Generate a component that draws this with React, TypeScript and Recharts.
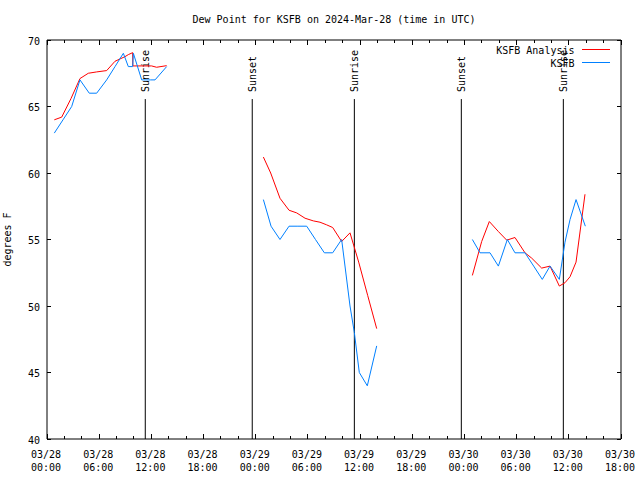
import React from 'react';
import { LineChart, Line, XAxis, YAxis, ReferenceLine, Legend } from 'recharts';

// hours since 2024-03-28 00:00 UTC; null = gap in data
const analysisHours = [
  0.84, 1.69, 2.76, 3.79, 4.75, 5.71, 6.86, 7.82, 8.97, 9.35, 9.85, 9.87, 10.9, 12.03, 12.6, 13.76,
  19,
  24.88, 25.72, 26.79, 27.83, 28.71, 29.67, 30.62, 31.39, 32.16, 32.85, 33.88, 34.84, 35.84, 36.87, 37.91,
  43,
  48.91, 49.98, 50.86, 51.9, 52.86, 53.81, 54.96, 55.73, 56.88, 57.84, 58.91, 59.56, 60.14, 60.83, 61.86,
];
const analysisDewpt = [
  64.0, 64.2, 65.6, 67.1, 67.5, 67.6, 67.7, 68.4, 68.75, 68.9, 69.05, 68.05, 68.05, 68.05, 67.95, 68.07,
  null,
  61.2, 60.0, 58.1, 57.2, 57.0, 56.6, 56.4, 56.3, 56.1, 55.9, 54.85, 55.5, 53.3, 50.8, 48.3,
  null,
  52.3, 54.85, 56.35, 55.6, 54.95, 55.15, 54.0, 53.6, 52.85, 53.0, 51.5, 51.75, 52.2, 53.3, 58.4,
];

const obsHours = [
  0.84, 1.84, 2.84, 3.79, 4.86, 5.71, 6.86, 7.82, 8.78, 9.35, 9.85, 9.93, 10.89, 11.89, 12.42, 13.76,
  19,
  24.88, 25.76, 26.79, 27.83, 28.85, 29.86, 30.87, 31.89, 32.85, 33.88, 34.84, 35.34, 35.91, 36.83, 37.91,
  43,
  48.91, 49.79, 50.94, 51.9, 52.93, 53.81, 54.96, 55.96, 56.95, 57.84, 58.91, 59.56, 60.14, 60.83, 61.9,
];
const obsDewpt = [
  63, 64, 65, 67, 66, 66, 67, 68, 69, 68, 68, 69, 67, 67, 67, 68,
  null,
  58, 56, 55, 56, 56, 56, 55, 54, 54, 55, 50, 48, 45, 44, 47,
  null,
  55, 54, 54, 53, 55, 54, 54, 53, 52, 53, 52, 54.8, 56.5, 58, 56,
];

const seriesNames = ['KSFB Analysis', 'KSFB'];

const sunHours = [11.3, 23.6, 35.34, 47.64, 59.37];
const sunLabels = ['Sunrise', 'Sunset', 'Sunrise', 'Sunset', 'Sunrise'];

const xTickHours = [0, 2, 4, 6, 8, 10, 12, 14, 16, 18, 20, 22, 24, 26, 28, 30, 32, 34, 36, 38, 40, 42, 44, 46, 48, 50, 52, 54, 56, 58, 60, 62, 64, 66];
const xDateLabels = ['03/28', '03/28', '03/28', '03/28', '03/29', '03/29', '03/29', '03/29', '03/30', '03/30', '03/30', '03/30'];
const xTimeLabels = ['00:00', '06:00', '12:00', '18:00', '00:00', '06:00', '12:00', '18:00', '00:00', '06:00', '12:00', '18:00'];
const yTicks = [40, 45, 50, 55, 60, 65, 70];

const analysisData = analysisHours.map((h, i) => ({ h, v: analysisDewpt[i] }));
const obsData = obsHours.map((h, i) => ({ h, v: obsDewpt[i] }));

const FONT = 'DejaVu Sans Mono';
const FS = 10;

const BottomTick = (props: any) => {
  const { x, y, payload } = props;
  const v = payload.value;
  const major = v % 6 === 0;
  const k = v / 6;
  return (
    <g>
      <line x1={x} y1={y} x2={x} y2={y - (major ? 5 : 3)} stroke="#000" shapeRendering="crispEdges" />
      {major && (
        <text x={x - 1} y={y + 19} textAnchor="middle" fontFamily={FONT} fontSize={FS} fill="#000">
          {xDateLabels[k]}
        </text>
      )}
      {major && (
        <text x={x - 1} y={y + 31.5} textAnchor="middle" fontFamily={FONT} fontSize={FS} fill="#000">
          {xTimeLabels[k]}
        </text>
      )}
    </g>
  );
};

const TopTick = (props: any) => {
  const { x, y, payload } = props;
  const major = payload.value % 6 === 0;
  return <line x1={x} y1={y} x2={x} y2={y + (major ? 5 : 3)} stroke="#000" shapeRendering="crispEdges" />;
};

const LeftTick = (props: any) => {
  const { x, y, payload } = props;
  return (
    <g>
      <line x1={x} y1={y} x2={x + 4} y2={y} stroke="#000" shapeRendering="crispEdges" />
      <text x={x - 7} y={y + 4.5} textAnchor="end" fontFamily={FONT} fontSize={FS} fill="#000">
        {payload.value}
      </text>
    </g>
  );
};

const RightTick = (props: any) => {
  const { x, y } = props;
  return <line x1={x} y1={y} x2={x - 4} y2={y} stroke="#000" shapeRendering="crispEdges" />;
};

const LegendContent = (props: any) => {
  const payload = [...(props.payload || [])].sort(
    (a: any, b: any) => seriesNames.indexOf(a.value) - seriesNames.indexOf(b.value)
  );
  return (
    <svg width={140} height={30} style={{ display: 'block' }}>
      {payload.map((p: any, i: number) => (
        <g key={i}>
          <text x={94.5} y={13.8 + i * 13} textAnchor="end" fontFamily={FONT} fontSize={FS} fill="#000">
            {p.value}
          </text>
          <line x1={101.5} y1={9.5 + i * 13} x2={130} y2={9.5 + i * 13} stroke={p.color} strokeWidth={1} shapeRendering="crispEdges" />
        </g>
      ))}
    </svg>
  );
};

const sunLabel = (text: string) => (props: any) => {
  const vb = props.viewBox || {};
  const x = (vb.x || 0) + 4;
  const y = 92;
  return (
    <text x={x} y={y} transform={`rotate(-90 ${x} ${y})`} textAnchor="start" fontFamily={FONT} fontSize={FS} fill="#000">
      {text}
    </text>
  );
};

export default function App() {
  return (
    <div style={{ position: 'absolute', left: 0, top: 0, width: 640, height: 480, background: '#fff' }}>
      <LineChart width={640} height={480} margin={{ top: 20, right: 0, bottom: 0, left: 0 }}>
        <text x={334} y={23} textAnchor="middle" fontFamily={FONT} fontSize={FS} fill="#000">
          Dew Point for KSFB on 2024-Mar-28 (time in UTC)
        </text>
        <text x={11} y={239.5} transform="rotate(-90 11 239.5)" textAnchor="middle" fontFamily={FONT} fontSize={FS} fill="#000">
          degrees F
        </text>
        <XAxis
          xAxisId="b"
          dataKey="h"
          type="number"
          domain={[0, 66]}
          ticks={xTickHours}
          interval={0}
          tick={<BottomTick />}
          tickLine={false}
          tickSize={0}
          tickMargin={0}
          height={41}
          axisLine={{ stroke: '#000' }}
          allowDataOverflow
        />
        <XAxis
          xAxisId="t"
          orientation="top"
          dataKey="h"
          type="number"
          domain={[0, 66]}
          ticks={xTickHours}
          interval={0}
          tick={<TopTick />}
          tickLine={false}
          tickSize={0}
          tickMargin={0}
          height={20}
          axisLine={{ stroke: '#000' }}
          allowDataOverflow
        />
        <YAxis
          yAxisId="l"
          type="number"
          domain={[40, 70]}
          ticks={yTicks}
          interval={0}
          tick={<LeftTick />}
          tickLine={false}
          tickSize={0}
          tickMargin={0}
          width={47}
          axisLine={{ stroke: '#000' }}
          allowDataOverflow
        />
        <YAxis
          yAxisId="r"
          orientation="right"
          type="number"
          domain={[40, 70]}
          ticks={yTicks}
          interval={0}
          tick={<RightTick />}
          tickLine={false}
          tickSize={0}
          tickMargin={0}
          width={19}
          axisLine={{ stroke: '#000' }}
          allowDataOverflow
        />
        {sunHours.map((h, i) => (
          <ReferenceLine
            key={i}
            xAxisId="b"
            yAxisId="l"
            segment={[{ x: h, y: 40 }, { x: h, y: 65.56 }]}
            stroke="#000"
            strokeWidth={1}
            label={sunLabel(sunLabels[i])}
          />
        ))}
        <Line
          xAxisId="b"
          yAxisId="l"
          data={analysisData}
          dataKey="v"
          name={seriesNames[0]}
          type="linear"
          stroke="#ff0000"
          strokeWidth={1}
          dot={false}
          connectNulls={false}
          isAnimationActive={false}
        />
        <Line
          xAxisId="b"
          yAxisId="l"
          data={obsData}
          dataKey="v"
          name={seriesNames[1]}
          type="linear"
          stroke="#0080ff"
          strokeWidth={1}
          dot={false}
          connectNulls={false}
          isAnimationActive={false}
        />
        <Legend
          layout="vertical"
          align="center"
          verticalAlign="middle"
          content={LegendContent}
          wrapperStyle={{ left: 480, top: 40, width: 140, height: 30 }}
        />
      </LineChart>
    </div>
  );
}
